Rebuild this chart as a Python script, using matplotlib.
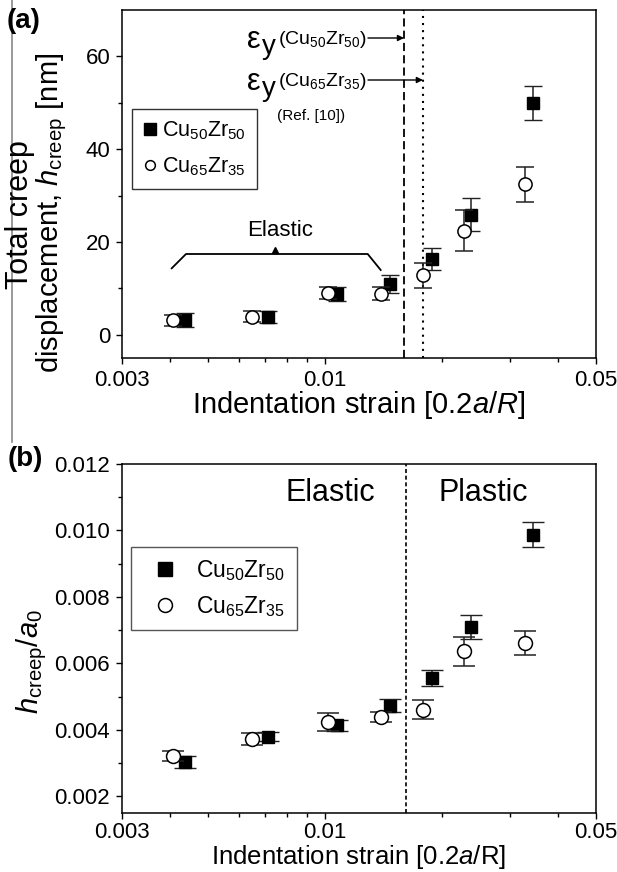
import matplotlib
matplotlib.use('Agg')
import matplotlib.pyplot as plt
from matplotlib.lines import Line2D
from matplotlib.ticker import FixedLocator, NullFormatter, FixedFormatter

plt.rcParams['font.family'] = ['Liberation Sans', 'DejaVu Sans']
plt.rcParams['mathtext.fontset'] = 'custom'
plt.rcParams['mathtext.rm'] = 'Liberation Sans'
plt.rcParams['mathtext.it'] = 'Liberation Sans:italic'
plt.rcParams['mathtext.bf'] = 'Liberation Sans:bold'

# ---------------- data ----------------
strain_5050 = [0.00436, 0.00712, 0.01078, 0.01470, 0.01886, 0.02382, 0.0344]
strain_6535 = [0.00407, 0.00648, 0.01020, 0.01395, 0.01790, 0.02283, 0.0328]

h_5050 = [3.2, 3.8, 8.8, 11.0, 16.4, 25.9, 49.9]
h_5050_err = [1.6, 1.3, 1.5, 1.9, 2.4, 3.5, 3.7]
h_6535 = [3.1, 3.9, 9.0, 8.9, 12.8, 22.4, 32.4]
h_6535_err = [1.2, 1.2, 1.2, 1.3, 2.7, 4.4, 3.8]

ha_5050 = [0.00303, 0.00380, 0.00414, 0.00473, 0.00556, 0.00710, 0.00987]
ha_5050_err = [0.00018, 0.00013, 0.00017, 0.00019, 0.00024, 0.00037, 0.00037]
ha_6535 = [0.00322, 0.00373, 0.00423, 0.00439, 0.00461, 0.00636, 0.00662]
ha_6535_err = [0.00015, 0.00017, 0.00027, 0.00014, 0.00029, 0.00045, 0.00037]

eps_y_5050 = 0.0160
eps_y_6535 = 0.0179
eps_boundary_b = 0.0162

label_5050 = r'Cu$_{50}$Zr$_{50}$'
label_6535 = r'Cu$_{65}$Zr$_{35}$'

x_major = [0.003, 0.01, 0.05]
x_major_labels = ['0.003', '0.01', '0.05']
x_minor = [0.004, 0.005, 0.006, 0.007, 0.008, 0.009, 0.02, 0.03, 0.04]

yA_major = [0, 20, 40, 60]
yA_minor = [10, 30, 50]
yB_major = [0.002, 0.004, 0.006, 0.008, 0.010, 0.012]
yB_labels = ['0.002', '0.004', '0.006', '0.008', '0.010', '0.012']
yB_minor = [0.003, 0.005, 0.007, 0.009, 0.011]

# ---------------- figure ----------------
W, H = 617, 872
fig = plt.figure(figsize=(W / 100, H / 100), dpi=100)


def fx(px):
    return px / W


def fy(py):
    return 1 - py / H


axA = fig.add_axes([fx(122), fy(358), (596 - 122) / W, (358 - 10) / H])
axB = fig.add_axes([fx(122), fy(813), (596 - 122) / W, (813 - 464) / H])

ecol = '#222222'

for ax in (axA, axB):
    ax.set_xscale('log')
    ax.set_xlim(0.003, 0.05)
    ax.xaxis.set_major_locator(FixedLocator(x_major))
    ax.xaxis.set_major_formatter(FixedFormatter(x_major_labels))
    ax.xaxis.set_minor_locator(FixedLocator(x_minor))
    ax.xaxis.set_minor_formatter(NullFormatter())
    ax.tick_params(which='major', direction='out', length=4.5, width=1.0,
                   labelsize=16, pad=4, top=False, right=False)
    ax.tick_params(which='minor', direction='out', length=2.6, width=1.0,
                   top=False, right=False)
    for sp in ax.spines.values():
        sp.set_linewidth(1.1)
axB.tick_params(axis='x', which='major', pad=2)

# ---- panel (a)
axA.set_ylim(-5, 70)
axA.yaxis.set_major_locator(FixedLocator(yA_major))
axA.yaxis.set_minor_locator(FixedLocator(yA_minor))

axA.axvline(eps_y_5050, color='k', lw=1.3, ls=(0, (4.5, 2.3)), zorder=1)
axA.axvline(eps_y_6535, color='k', lw=1.5, ls=(0, (1, 2.4)), zorder=1)

axA.errorbar(strain_5050, h_5050, yerr=h_5050_err, fmt='s', ms=8, mfc='k',
             mec='k', mew=1.0, ecolor=ecol, elinewidth=1.1, capsize=6.5,
             capthick=1.1, zorder=3)
axA.errorbar(strain_6535, h_6535, yerr=h_6535_err, fmt='o', ms=9.5, mfc='white',
             mec='k', mew=1.1, ecolor=ecol, elinewidth=1.1, capsize=6.5,
             capthick=1.1, zorder=4)

hA = [Line2D([], [], ls='none', marker='s', ms=8, mfc='k', mec='k'),
      Line2D([], [], ls='none', marker='o', ms=7, mfc='white', mec='k', mew=1.1)]
legA = axA.legend(hA, [label_5050, label_6535], loc='upper left',
                  bbox_to_anchor=((132 - 122) / 474, (358 - 109) / 348),
                  borderaxespad=0, fancybox=False, edgecolor='#333333',
                  framealpha=1, fontsize=15.5, handlelength=0.7,
                  handletextpad=0.2, borderpad=0.5, labelspacing=0.6)
legA.get_frame().set_linewidth(1.0)

# epsilon_y annotations
for (py, eps, txt) in [(38, eps_y_5050, label_5050), (80, eps_y_6535, label_6535)]:
    fig.text(fx(254), fy(py + 2), 'ε', fontsize=22, ha='center', va='center')
    fig.text(fx(269), fy(py + 9), 'y', fontsize=20, ha='center', va='center')
    fig.text(fx(278), fy(py + 2), '(' + txt + ')', fontsize=14, ha='left',
             va='center')
    axA.annotate('', xy=(eps, (358 - py) / 348), xycoords=('data', 'axes fraction'),
                 xytext=(fx(368), fy(py)), textcoords='figure fraction',
                 arrowprops=dict(arrowstyle='-|>', color='k', lw=1.0,
                                 shrinkA=0, shrinkB=0, mutation_scale=9))
fig.text(fx(311), fy(116), '(Ref. [10])', fontsize=11, ha='center', va='center')

# Elastic bracket
bx = [171.7, 186, 367.7, 380.7]
by = [268.3, 254, 254, 270]
fig.add_artist(Line2D([fx(v) for v in bx], [fy(v) for v in by], color='k', lw=1.3))
fig.add_artist(Line2D([fx(275)], [fy(250)], marker='^', ms=5, color='k', ls='none'))
fig.text(fx(280), fy(231), 'Elastic', fontsize=16, ha='center', va='center')

# axis labels (a)
fig.text(fx(20), fy(215), 'Total creep', fontsize=22, rotation=90,
         ha='center', va='center')
fig.text(fx(52), fy(213), r'displacement, $h_{\mathrm{creep}}$ [nm]', fontsize=21,
         rotation=90, ha='center', va='center')
fig.text(fx(359), fy(405), r'Indentation strain [0.2$a$/$R$]', fontsize=21,
         ha='center', va='center')
fig.text(fx(24), fy(21), '(a)', fontsize=20, fontweight='bold', ha='center',
         va='center')

# ---- panel (b)
axB.set_ylim(0.0015, 0.012)
axB.yaxis.set_major_locator(FixedLocator(yB_major))
axB.yaxis.set_major_formatter(FixedFormatter(yB_labels))
axB.yaxis.set_minor_locator(FixedLocator(yB_minor))

axB.axvline(eps_boundary_b, color='k', lw=1.2, ls=(0, (2.4, 1.6)), zorder=1)

axB.errorbar(strain_5050, ha_5050, yerr=ha_5050_err, fmt='s', ms=9, mfc='k',
             mec='k', mew=1.0, ecolor=ecol, elinewidth=1.1, capsize=8,
             capthick=1.1, zorder=3)
axB.errorbar(strain_6535, ha_6535, yerr=ha_6535_err, fmt='o', ms=10, mfc='white',
             mec='k', mew=1.1, ecolor=ecol, elinewidth=1.1, capsize=8,
             capthick=1.1, zorder=4)

hB = [Line2D([], [], ls='none', marker='s', ms=10, mfc='k', mec='k'),
      Line2D([], [], ls='none', marker='o', ms=10, mfc='white', mec='k', mew=1.1)]
legB = axB.legend(hB, [label_5050, label_6535], loc='upper left',
                  bbox_to_anchor=((131 - 122) / 474, (813 - 547) / 349),
                  borderaxespad=0, fancybox=False, edgecolor='#555555',
                  framealpha=1, fontsize=16.5, handlelength=2.0,
                  handletextpad=0.35, borderpad=0.5, labelspacing=0.45)
legB.get_frame().set_linewidth(1.0)

fig.text(fx(330), fy(493), 'Elastic', fontsize=22, ha='center', va='center')
fig.text(fx(483), fy(493), 'Plastic', fontsize=22, ha='center', va='center')

fig.text(fx(32), fy(662), r'$h_{\mathrm{creep}}/a_{\mathit{0}}$', fontsize=21,
         rotation=90, ha='center', va='center')
fig.text(fx(359), fy(856.5), r'Indentation strain [0.2$a$/R]', fontsize=18.5,
         ha='center', va='center')
fig.text(fx(25), fy(459), '(b)', fontsize=20, fontweight='bold', ha='center',
         va='center')

# scan edge line at the left
fig.add_artist(Line2D([fx(11.5), fx(11.5)], [fy(0), fy(442)], color='#888888', lw=1.2))

fig.savefig('out.png', dpi=100)
